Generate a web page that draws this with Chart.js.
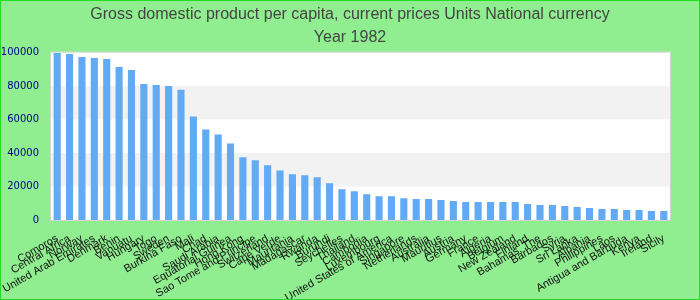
<!DOCTYPE html>
<html>
<head>
<meta charset="utf-8">
<script src="https://cdn.jsdelivr.net/npm/chart.js@4/dist/chart.umd.min.js"></script>
<style>
html,body{margin:0;padding:0;background:#90ee90;}
#wrap{width:700px;height:300px;position:relative;}
</style>
</head>
<body>
<div id="wrap"><canvas id="c" width="700" height="300"></canvas></div>
<script>
const titleLines = ["Gross domestic product per capita, current prices Units National currency", "Year 1982"];
const countries = ["Comoros","Central Africa","Norway","United Arab Emirates","Denmark","Benin","Vanuatu","Hungary","Togo","Sweden","Burkina Faso","Mali","Chad","Saudi Arabia","Equatorial Guinea","Hong Kong","Sao Tome and Principe","Switzerland","Cape Verde","Mauritania","Madagascar","Rwanda","Burundi","Seychelles","Thailand","Cambodia","Luxembourg","United States of America","Singapore","Netherlands","Australia","Mauritius","Austria","Germany","France","Algeria","Belgium","New Zealand","Finland","Bahamas, The","Barbados","Syria","Sri Lanka","Albania","Philippines","Laos","Antigua and Barbuda","Kenya","Ireland","Sicily"];
const gdpValues = [99600,99000,97200,96600,96000,91300,89500,81200,80600,80000,77700,61700,54000,51000,45700,37400,35600,32600,29600,27300,26700,25500,21900,18400,17200,15400,14200,14200,13000,12500,12500,11900,11300,10700,10700,10700,10700,10700,9500,8900,8900,8300,7700,7100,6500,6500,5900,5900,5300,5300];
const yTicks = [0,20000,40000,60000,80000,100000];

const bgPlugin = {
  id: 'bg',
  beforeDraw(chart) {
    const ctx = chart.ctx;
    ctx.save();
    ctx.fillStyle = '#90ee90';
    ctx.fillRect(0, 0, chart.width, chart.height);
    const a = chart.chartArea;
    ctx.fillStyle = '#ffffff';
    ctx.fillRect(a.left, a.top, a.right - a.left, a.bottom - a.top);
    const y = chart.scales.y;
    ctx.fillStyle = '#f2f2f2';
    for (let i = 0; i < yTicks.length - 1; i++) {
      if (i % 2 === 1) {
        const t = y.getPixelForValue(yTicks[i + 1]);
        const b = y.getPixelForValue(yTicks[i]);
        ctx.fillRect(a.left, t, a.right - a.left, b - t);
      }
    }
    ctx.restore();
  },
  afterDraw(chart) {
    const ctx = chart.ctx;
    const a = chart.chartArea;
    ctx.save();
    ctx.strokeStyle = '#d4d4d4';
    ctx.lineWidth = 1;
    ctx.strokeRect(a.left - 0.5, a.top - 0.5, a.right - a.left + 1, a.bottom - a.top + 1);
    ctx.strokeStyle = '#22dd22';
    ctx.lineWidth = 2;
    ctx.strokeRect(0, 0, chart.width, chart.height);
    ctx.restore();
  }
};

new Chart(document.getElementById('c'), {
  type: 'bar',
  data: {
    labels: countries,
    datasets: [{
      data: gdpValues,
      backgroundColor: '#62aaf4',
      borderWidth: 0,
      barPercentage: 0.72,
      categoryPercentage: 0.8
    }]
  },
  options: {
    responsive: false,
    animation: false,
    devicePixelRatio: 1,
    layout: { padding: { left: 0, right: 0, top: 0, bottom: 0 } },
    plugins: {
      legend: { display: false },
      tooltip: { enabled: false },
      title: {
        display: true,
        text: titleLines,
        color: '#444444',
        font: { family: 'Liberation Sans, Arial, sans-serif', size: 16, weight: 'normal', lineHeight: 1.45 },
        padding: { top: 3, bottom: 3 }
      }
    },
    scales: {
      x: {
        grid: { display: false },
        border: { color: '#d4d4d4' },
        afterFit(scale) { scale.height = 80; },
        ticks: {
          autoSkip: false,
          minRotation: 30,
          maxRotation: 30,
          color: '#111111',
          padding: 4,
          font: { family: 'Liberation Sans, Arial, sans-serif', size: 11 }
        }
      },
      y: {
        min: 0,
        max: 100000,
        afterBuildTicks(scale) { scale.ticks = yTicks.map(v => ({ value: v })); },
        afterFit(scale) { scale.width = 51; },
        grid: { display: false, drawTicks: false },
        border: { display: false },
        ticks: {
          color: '#00008b',
          padding: 12,
          callback: (v) => String(v),
          font: { family: 'DejaVu Sans, sans-serif', size: 10 }
        }
      },
      y2: {
        type: 'linear',
        position: 'right',
        display: true,
        grid: { display: false, drawTicks: false },
        border: { display: false },
        ticks: { display: false },
        afterFit(scale) { scale.width = 30; }
      }
    }
  },
  plugins: [bgPlugin]
});
</script>
</body>
</html>
